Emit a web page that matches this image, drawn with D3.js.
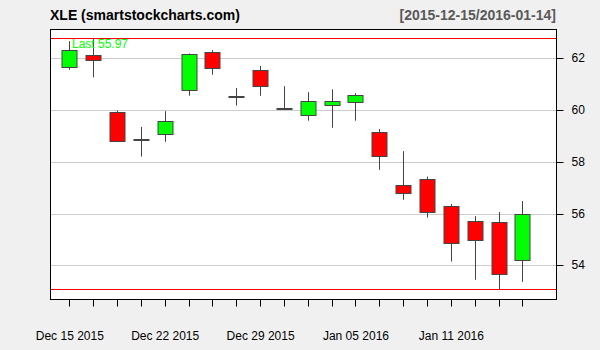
<!DOCTYPE html>
<html>
<head>
<meta charset="utf-8">
<script src="https://cdn.jsdelivr.net/npm/d3@7"></script>
<style>
  body { margin: 0; background: #f0f0f0; }
  svg { display: block; font-family: "Liberation Sans", Arial, sans-serif; }
</style>
</head>
<body>
<div id="chart"></div>
<script>
const dates = ['Dec 15 2015', 'Dec 16 2015', 'Dec 17 2015', 'Dec 18 2015', 'Dec 22 2015',
  'Dec 23 2015', 'Dec 24 2015', 'Dec 28 2015', 'Dec 29 2015', 'Dec 30 2015',
  'Dec 31 2015', 'Jan 04 2016', 'Jan 05 2016', 'Jan 06 2016', 'Jan 07 2016',
  'Jan 08 2016', 'Jan 11 2016', 'Jan 12 2016', 'Jan 13 2016', 'Jan 14 2016'];
const open  = [61.66, 62.10, 59.91, 58.86, 59.05, 60.74, 62.20, 60.51, 61.51, 60.06,
  59.78, 60.16, 60.28, 59.12, 57.08, 57.31, 56.28, 55.71, 55.67, 54.21];
const high  = [62.63, 62.75, 59.96, 59.33, 59.94, 62.16, 62.29, 60.83, 61.68, 60.90,
  60.67, 60.78, 60.63, 59.25, 58.40, 57.42, 56.37, 55.90, 56.06, 56.48];
const low   = [61.53, 61.24, 58.75, 58.19, 58.76, 60.53, 61.34, 60.15, 60.53, 60.03,
  59.57, 59.30, 59.57, 57.68, 56.53, 55.84, 54.15, 53.45, 53.08, 53.37];
const close = [62.31, 61.89, 58.78, 58.86, 59.56, 62.12, 61.58, 60.47, 60.89, 60.05,
  60.32, 60.32, 60.55, 58.20, 56.78, 56.03, 54.85, 54.97, 53.66, 55.97];
const yTicks = [54, 56, 58, 60, 62];
const labelIdx = [0, 4, 8, 12, 16];

const width = 600, height = 350;
const box = { left: 50, right: 556, top: 29, bottom: 299 };

const svg = d3.select('#chart').append('svg')
  .attr('width', width)
  .attr('height', height);

svg.append('rect').attr('width', width).attr('height', height).attr('fill', '#f0f0f0');
svg.append('rect')
  .attr('x', box.left).attr('y', box.top)
  .attr('width', box.right - box.left).attr('height', box.bottom - box.top)
  .attr('fill', '#fff');

const x = d3.scaleLinear()
  .domain([-0.81, 20.41])
  .range([box.left, box.right]);

const y = d3.scaleLinear()
  .domain([52.71, 63.10])
  .range([box.bottom, box.top]);

const px = v => Math.round(v) + 0.5;

// grid
svg.append('g').selectAll('line')
  .data(yTicks)
  .join('line')
    .attr('x1', box.left).attr('x2', box.right)
    .attr('y1', d => px(y(d))).attr('y2', d => px(y(d)))
    .attr('stroke', '#cccccc');

// max/min lines
const hiMax = d3.max(high), loMin = d3.min(low);
svg.append('g').selectAll('line')
  .data([hiMax, loMin])
  .join('line')
    .attr('x1', box.left).attr('x2', box.right)
    .attr('y1', d => px(y(d))).attr('y2', d => px(y(d)))
    .attr('stroke', '#ff0000');

// candles
const step = x(1) - x(0);
const bw = Math.round(step * 0.64);
const candles = svg.append('g').selectAll('g')
  .data(d3.range(dates.length))
  .join('g');

candles.append('line')
  .attr('x1', i => px(x(i))).attr('x2', i => px(x(i)))
  .attr('y1', i => y(high[i])).attr('y2', i => y(low[i]))
  .attr('stroke', '#444');

candles.append('rect')
  .attr('x', i => Math.round(x(i)) - bw / 2 + 0.5)
  .attr('width', bw)
  .attr('y', i => Math.round(y(Math.max(open[i], close[i]))) + 0.5)
  .attr('height', i => Math.max(1, Math.round(Math.abs(y(open[i]) - y(close[i])))))
  .attr('fill', i => close[i] >= open[i] ? '#00ff00' : '#ff0000')
  .attr('stroke', '#444');

// last label
svg.append('text')
  .attr('x', 72).attr('y', 48)
  .attr('font-size', 12)
  .attr('fill', '#00ff00')
  .text('Last ' + close[close.length - 1].toFixed(2));

// box border
svg.append('rect')
  .attr('x', box.left + 0.5).attr('y', box.top + 0.5)
  .attr('width', box.right - box.left).attr('height', box.bottom - box.top)
  .attr('fill', 'none')
  .attr('stroke', '#000');

// x axis ticks
const xAxis = svg.append('g')
  .attr('transform', `translate(0.5,${box.bottom + 0.5})`)
  .call(d3.axisBottom(x).tickValues(d3.range(dates.length).map(i => i)).tickSize(7).tickFormat(''));
xAxis.select('.domain').remove();
xAxis.selectAll('line').attr('transform', function() {
  return null;
}).attr('x1', 0).attr('x2', 0);
xAxis.selectAll('.tick').attr('transform', d => `translate(${Math.round(x(d))},0)`);

// x labels
const xLab = svg.append('g')
  .attr('transform', `translate(0,${box.bottom})`)
  .call(d3.axisBottom(x).tickValues(labelIdx).tickSize(0).tickPadding(32)
    .tickFormat(i => dates[i]));
xLab.select('.domain').remove();
xLab.selectAll('text').attr('font-size', 12).attr('fill', '#000')
  .attr('font-family', '"Liberation Sans", Arial, sans-serif');

// y axis
const yAxis = svg.append('g')
  .attr('transform', `translate(${box.right + 0.5},0)`)
  .call(d3.axisRight(y).tickValues(yTicks).tickSize(7).tickPadding(8));
yAxis.select('.domain').remove();
yAxis.selectAll('.tick').attr('transform', d => `translate(0,${px(y(d))})`);
yAxis.selectAll('text').attr('font-size', 12).attr('fill', '#000')
  .attr('font-family', '"Liberation Sans", Arial, sans-serif');

// titles
svg.append('text')
  .attr('x', 50).attr('y', 20)
  .attr('font-size', 14).attr('font-weight', 'bold')
  .attr('fill', '#000')
  .text('XLE (smartstockcharts.com)');
svg.append('text')
  .attr('x', 556).attr('y', 20)
  .attr('text-anchor', 'end')
  .attr('font-size', 14).attr('font-weight', 'bold')
  .attr('fill', '#595959')
  .text('[2015-12-15/2016-01-14]');
</script>
</body>
</html>
